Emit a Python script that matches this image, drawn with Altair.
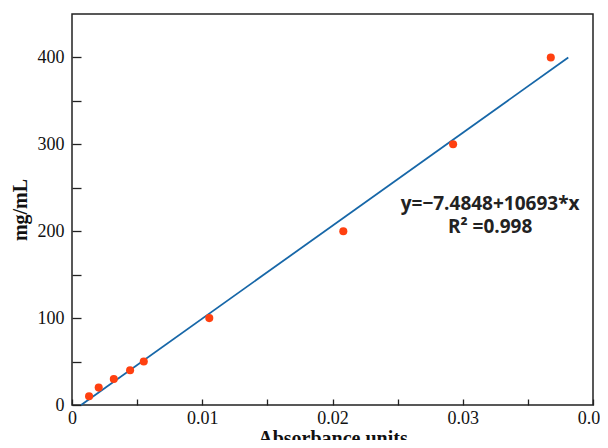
import altair as alt
import pandas as pd

# measured data points
absorbance = [0.00131, 0.00205, 0.00321, 0.00446, 0.00551, 0.01054, 0.02083, 0.02926, 0.03676]
conc = [10, 20, 30, 40, 50, 100, 200, 300, 400]

# fit line from the printed equation
intercept = -7.4848
slope = 10693
line_x = [0.0007, 0.0381]
line_y = [intercept + slope * v for v in line_x]

ann_x = [0.0321, 0.0321]
ann_y = [231.0, 205.0]
ann_text = ["y=\u22127.4848+10693*x", "R\u00b2 =0.998"]

pts = pd.DataFrame({"x": absorbance, "y": conc})
fit = pd.DataFrame({"x": line_x, "y": line_y})
ann = pd.DataFrame({"x": ann_x, "y": ann_y, "t": ann_text})

xscale = alt.Scale(domain=[0, 0.04], nice=False, zero=False)
yscale = alt.Scale(domain=[0, 450], nice=False)

serif = "Liberation Serif"

xaxis = alt.Axis(
    values=[0, 0.005, 0.01, 0.015, 0.02, 0.025, 0.03, 0.035, 0.04],
    labelExpr="round(datum.value*200) % 2 == 0 ? format(datum.value, '~g') : ''",
    domain=False, grid=False, tickSize=6, offset=-6, tickColor="#222", tickWidth=1.3,
    labelFont=serif, labelFontSize=18, labelColor="#111", labelPadding=4,
    labelFlush=False,
    title="Absorbance units", titleFont=serif, titleFontSize=20, titleFontWeight="bold",
    titleColor="#111", titlePadding=1,
)
yaxis = alt.Axis(
    values=[0, 50, 100, 150, 200, 250, 300, 350, 400],
    labelExpr="datum.value % 100 == 0 ? format(datum.value, 'd') : ''",
    domain=False, grid=False, tickSize=9, offset=-9, tickColor="#222", tickWidth=1.3,
    labelFont=serif, labelFontSize=18, labelColor="#111", labelPadding=8,
    title="mg/mL", titleFont=serif, titleFontSize=20, titleFontWeight="bold",
    titleColor="#111", titlePadding=7,
)

line = alt.Chart(fit).mark_line(color="#1767a8", strokeWidth=1.8).encode(
    x=alt.X("x:Q", scale=xscale, axis=xaxis),
    y=alt.Y("y:Q", scale=yscale, axis=yaxis),
)
points = alt.Chart(pts).mark_circle(color="#ff4010", opacity=1, size=65).encode(
    x=alt.X("x:Q", scale=xscale),
    y=alt.Y("y:Q", scale=yscale),
)
text = alt.Chart(ann).mark_text(
    font="Open Sans", fontSize=19, fontWeight="bold", color="#222", align="center", baseline="middle"
).encode(
    x=alt.X("x:Q", scale=xscale),
    y=alt.Y("y:Q", scale=yscale),
    text="t:N",
)

chart = alt.layer(line, points, text).properties(
    width=521, height=391,
    autosize=alt.AutoSizeParams(type="none"),
    padding={"left": 64, "top": 6, "right": 7, "bottom": 35},
    background="white",
).configure_view(stroke="#222", strokeWidth=1.5)

chart.save("out.html", embed_options={"renderer": "svg", "actions": False})
